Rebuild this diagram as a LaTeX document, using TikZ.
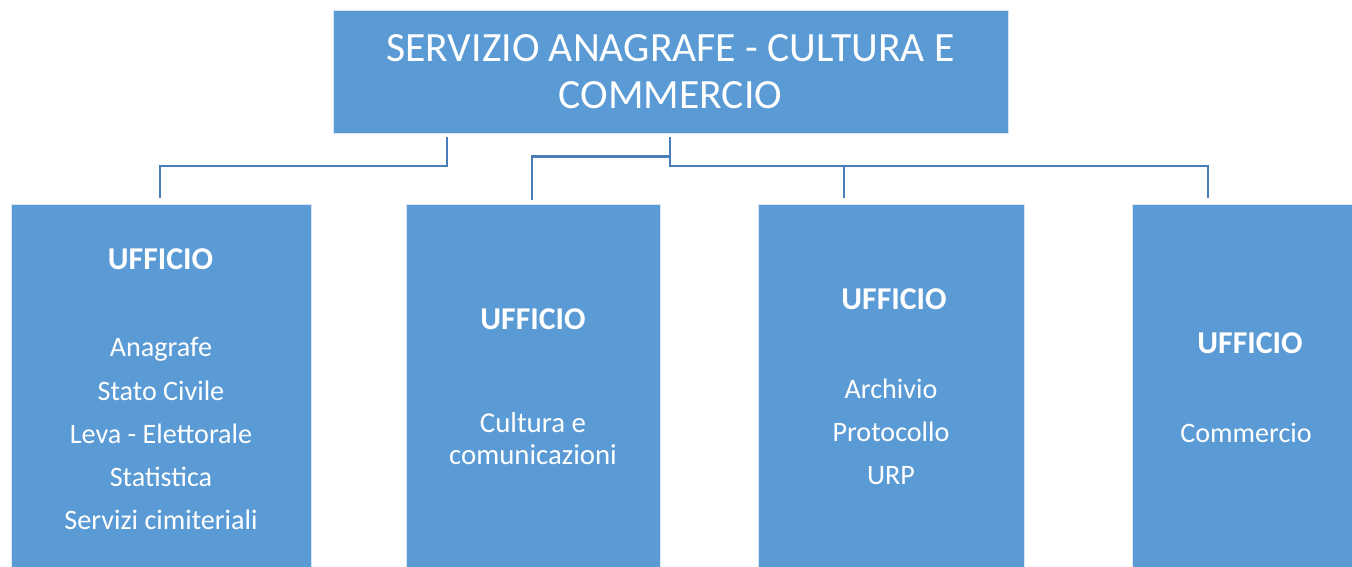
\documentclass[tikz,border=0pt]{standalone}
\usepackage{fontspec}
\setmainfont{Carlito}
\usepackage{xcolor}
\definecolor{boxblue}{HTML}{5B9BD5}
\definecolor{lineblue}{HTML}{4A7EBB}

\begin{document}
\begin{tikzpicture}[x=0.025cm, y=-0.025cm,
	box/.style={fill=boxblue, draw=white!75!boxblue, line width=0.4pt, inner sep=0pt, outer sep=0pt},
	conn/.style={lineblue, line width=2.1pt},
	head/.style={text=white, font=\fontsize{22.6}{26}\selectfont\bfseries},
	items/.style={text=white, align=center, font=\fontsize{20}{30.6}\selectfont}]
				\useasboundingbox (0, 0) rectangle (1352, 566);
				\clip (0, 0) rectangle (1352, 566);
				\node[box, minimum width = 16.875cm, minimum height = 3.075cm, text = white, align = center, font = \fontsize{29.6}{33.4}\selectfont] (servizio) at (670.5, 71.5) {SERVIZIO ANAGRAFE - CULTURA E\\COMMERCIO};
				\node[box, minimum width = 7.5cm, minimum height = 9.4cm] (anagrafe) at (161, 392) {};
				\node[box, minimum width = 6.35cm, minimum height = 9.4cm] (cultura) at (533, 392) {};
				\node[box, minimum width = 6.65cm, minimum height = 9.4cm] (archivio) at (891, 392) {};
				\node[box, minimum width = 5.75cm, minimum height = 9.4cm] (commercio) at (1247, 392) {};
				% testi degli uffici
				\node[head] (h1) at (160.5, 259) {UFFICIO};
				\node[items] (l1) at (161, 433.5) {Anagrafe\\Stato Civile\\Leva - Elettorale\\Statistica\\Servizi cimiteriali};
				\node[head] (h2) at (533, 319) {UFFICIO};
				\node[items, font = \fontsize{20.5}{22.8}\selectfont] (l2) at (533, 439) {Cultura e\\comunicazioni};
				\node[head] (h3) at (894, 299) {UFFICIO};
				\node[items] (l3) at (891, 431.5) {Archivio\\Protocollo\\URP};
				\node[head] (h4) at (1250, 343) {UFFICIO};
				\node[items] (l4) at (1246, 433) {Commercio};
				% collegamenti
				\coordinate (s1) at (447, 137);
				\coordinate (s2) at (670, 137);
				\coordinate (bus) at (670, 166);
				\coordinate (branch) at (670, 156.5);
				\coordinate (e1) at (160, 198);
				\coordinate (e2) at (532, 200);
				\coordinate (e3) at (844, 198);
				\coordinate (e4) at (1208, 198);
				\draw[conn] (s1) -- (s1 |- bus) -| (e1);
				\draw[conn] (s2) -- (bus) -| (e4);
				\draw[conn] (branch) -| (e2);
				\draw[conn] (e3 |- bus) -- (e3);
			\end{tikzpicture}
\end{document}
